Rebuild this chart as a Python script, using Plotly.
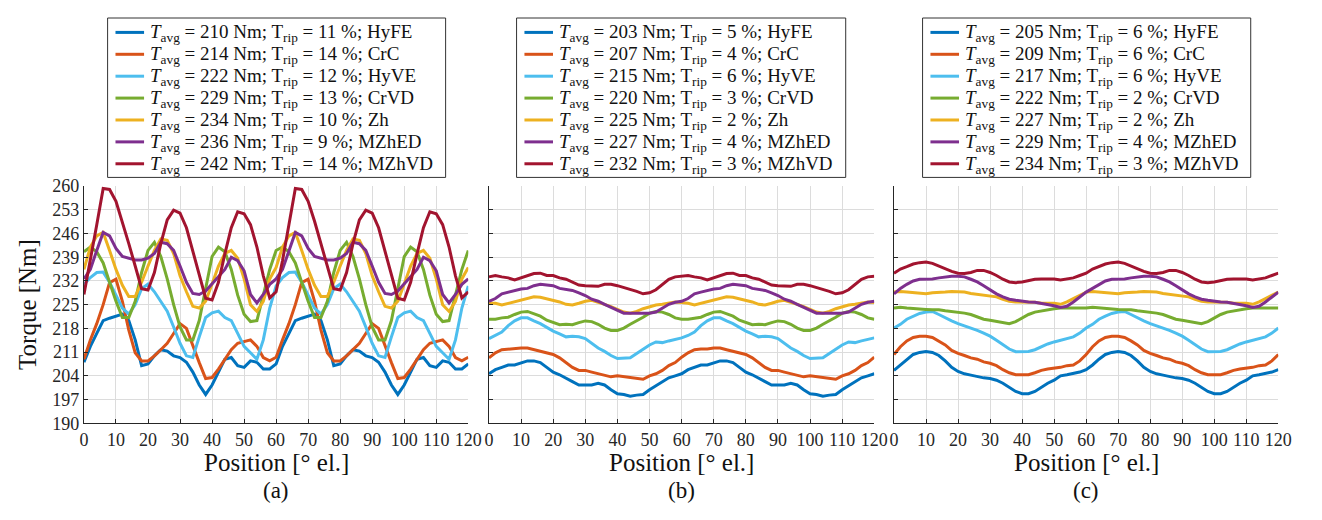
import plotly.graph_objects as go

# ---------------- data ----------------
position = list(range(0, 121, 2))

names = ["HyFE", "CrC", "HyVE", "CrVD", "Zh", "MZhED", "MZhVD"]
colors = ["#0072BD", "#D95319", "#4DBEEE", "#77AC30", "#EDB120", "#7E2F8E", "#A2142F"]

tavg_a = [210, 214, 222, 229, 234, 236, 242]
trip_a = [11, 14, 12, 13, 10, 9, 14]
tavg_b = [203, 207, 215, 220, 225, 227, 232]
trip_b = [5, 4, 6, 3, 2, 4, 3]
tavg_c = [205, 209, 217, 222, 227, 229, 234]
trip_c = [6, 6, 6, 2, 2, 4, 3]

# panel (a)
HyFE_a = [208.0, 212.7, 216.5, 220.3, 221.0, 221.7, 222.2, 220.3, 214.6, 207.0, 207.5, 209.9, 211.7, 211.3, 209.9, 209.4,
          208.0, 205.1, 201.3, 198.5, 201.3, 205.1, 208.9, 209.4, 207.0, 206.5, 208.4, 208.0, 206.0, 206.0, 207.5,
          212.7, 216.5, 220.3, 221.0, 221.7, 222.2, 220.3, 214.6, 207.0, 207.5, 209.9, 211.7, 211.3, 209.9, 209.4,
          208.0, 205.1, 201.3, 198.5, 201.3, 205.1, 208.9, 209.4, 207.0, 206.5, 208.4, 208.0, 206.0, 206.0, 207.5]
CrC_a = [208.9, 214.6, 219.4, 225.0, 231.5, 232.5, 226.0, 217.5, 210.8, 208.4, 208.4, 209.9, 211.7, 213.6, 216.5, 219.4,
         218.0, 212.7, 207.9, 203.2, 203.5, 206.0, 208.9, 211.7, 213.6, 214.1, 214.6, 212.7, 209.4, 208.4, 209.5,
         214.6, 219.4, 225.0, 231.5, 232.5, 226.0, 217.5, 210.8, 208.4, 208.4, 209.9, 211.7, 213.6, 216.5, 219.4,
         218.0, 212.7, 207.9, 203.2, 203.5, 206.0, 208.9, 211.7, 213.6, 214.1, 214.6, 212.7, 209.4, 208.4, 209.5]
HyVE_a = [231.0, 233.0, 234.5, 234.6, 231.6, 227.8, 224.0, 222.2, 225.0, 229.7, 231.1, 228.8, 226.0, 223.1, 218.4, 213.6,
          209.9, 209.4, 215.5, 221.2, 222.6, 223.1, 221.2, 220.3, 216.5, 212.7, 210.8, 208.9, 214.6, 224.0, 230.5,
          233.0, 234.5, 234.6, 231.6, 227.8, 224.0, 222.2, 225.0, 229.7, 231.1, 228.8, 226.0, 223.1, 218.4, 213.6,
          209.9, 209.4, 215.5, 221.2, 222.6, 223.1, 221.2, 220.3, 216.5, 212.7, 210.8, 208.9, 214.6, 224.0, 230.5]
CrVD_a = [240.6, 242.0, 240.6, 237.3, 231.6, 226.0, 221.2, 221.2, 226.0, 234.5, 241.0, 243.4, 239.2, 232.6, 225.0, 218.4,
          214.6, 214.6, 220.3, 229.7, 239.2, 242.0, 240.6, 235.4, 227.8, 222.2, 220.0, 220.3, 227.8, 235.4, 241.0,
          242.0, 240.6, 237.3, 231.6, 226.0, 221.2, 221.2, 226.0, 234.5, 241.0, 243.4, 239.2, 232.6, 225.0, 218.4,
          214.6, 214.6, 220.3, 229.7, 239.2, 242.0, 240.6, 235.4, 227.8, 222.2, 220.0, 220.3, 227.8, 235.4, 241.0]
Zh_a = [235.4, 242.0, 245.3, 246.3, 241.0, 235.4, 230.7, 227.4, 227.4, 231.6, 236.4, 241.0, 244.4, 244.0, 240.1, 233.5,
        228.8, 224.5, 224.0, 226.0, 231.1, 236.4, 240.1, 241.0, 238.7, 232.6, 225.0, 223.0, 226.0, 232.6, 236.0,
        242.0, 245.3, 246.3, 241.0, 235.4, 230.7, 227.4, 227.4, 231.6, 236.4, 241.0, 244.4, 244.0, 240.1, 233.5,
        228.8, 224.5, 224.0, 226.0, 231.1, 236.4, 240.1, 241.0, 238.7, 232.6, 225.0, 223.0, 226.0, 232.6, 236.0]
MZhED_a = [232.6, 235.4, 241.0, 246.3, 245.3, 241.6, 239.2, 238.7, 238.2, 238.2, 238.7, 240.1, 243.4, 243.0, 241.0, 236.4,
           231.6, 228.3, 228.0, 229.0, 231.1, 233.0, 235.4, 239.0, 238.0, 235.0, 228.0, 225.5, 228.0, 231.0, 232.6,
           235.4, 241.0, 246.3, 245.3, 241.6, 239.2, 238.7, 238.2, 238.2, 238.7, 240.1, 243.4, 243.0, 241.0, 236.4,
           231.6, 228.3, 228.0, 229.0, 231.1, 233.0, 235.4, 239.0, 238.0, 235.0, 228.0, 225.5, 228.0, 231.0, 232.6]
MZhVD_a = [228.0, 238.0, 248.6, 259.3, 259.0, 255.5, 249.6, 243.0, 236.4, 229.7, 229.3, 234.5, 243.0, 250.0, 252.9, 252.0,
           247.7, 241.0, 233.5, 226.9, 226.4, 231.6, 240.0, 247.7, 252.4, 251.8, 248.6, 242.0, 233.5, 227.0, 228.8,
           238.0, 248.6, 259.3, 259.0, 255.5, 249.6, 243.0, 236.4, 229.7, 229.3, 234.5, 243.0, 250.0, 252.9, 252.0,
           247.7, 241.0, 233.5, 226.9, 226.4, 231.6, 240.0, 247.7, 252.4, 251.8, 248.6, 242.0, 233.5, 227.0, 228.8]

# panel (b)
HyFE_b = [204.6, 205.8, 206.5, 207.2, 207.2, 207.9, 208.4, 208.4, 207.9, 206.5, 205.1, 204.3, 203.4, 202.3, 201.3, 201.3,
          201.3, 201.8, 201.3, 199.9, 198.7, 198.5, 198.0, 198.3, 198.5, 199.9, 201.1, 202.3, 203.4, 204.0, 204.6,
          205.8, 206.5, 207.2, 207.2, 207.9, 208.4, 208.4, 207.9, 206.5, 205.1, 204.3, 203.4, 202.3, 201.3, 201.3,
          201.3, 201.8, 201.3, 199.9, 198.7, 198.5, 198.0, 198.3, 198.5, 199.9, 201.1, 202.3, 203.4, 204.0, 204.6]
CrC_b = [209.3, 210.8, 211.7, 211.9, 211.9, 212.2, 212.2, 211.7, 211.2, 210.6, 210.3, 209.3, 207.9, 206.5, 205.6, 205.6,
         205.1, 204.6, 204.2, 203.7, 204.0, 203.7, 203.4, 203.2, 203.0, 204.0, 204.6, 205.6, 207.0, 207.9, 209.5,
         210.8, 211.7, 211.9, 211.9, 212.2, 212.2, 211.7, 211.2, 210.6, 210.3, 209.3, 207.9, 206.5, 205.6, 205.6,
         205.1, 204.6, 204.2, 203.7, 204.0, 203.7, 203.4, 203.2, 203.0, 204.0, 204.6, 205.6, 207.0, 207.9, 209.5]
HyVE_b = [215.0, 215.9, 216.9, 218.8, 220.2, 221.1, 221.1, 220.2, 219.4, 218.3, 217.2, 216.4, 215.5, 215.7, 215.5, 215.0,
          213.6, 212.2, 211.2, 210.0, 209.1, 209.1, 209.3, 210.6, 211.9, 213.1, 214.0, 213.8, 214.3, 214.7, 215.2,
          215.9, 216.9, 218.8, 220.2, 221.1, 221.1, 220.2, 219.4, 218.3, 217.2, 216.4, 215.5, 215.7, 215.5, 215.0,
          213.6, 212.2, 211.2, 210.0, 209.1, 209.1, 209.3, 210.6, 211.9, 213.1, 214.0, 213.8, 214.3, 214.7, 215.2]
CrVD_b = [220.7, 220.7, 221.1, 221.3, 222.1, 222.8, 223.0, 222.3, 221.6, 220.4, 219.7, 219.1, 219.2, 219.1, 219.7, 220.2,
          220.0, 219.2, 218.1, 217.4, 217.4, 218.1, 219.2, 220.2, 221.3, 222.5, 223.0, 222.8, 222.1, 221.1, 220.7,
          220.7, 221.1, 221.3, 222.1, 222.8, 223.0, 222.3, 221.6, 220.4, 219.7, 219.1, 219.2, 219.1, 219.7, 220.2,
          220.0, 219.2, 218.1, 217.4, 217.4, 218.1, 219.2, 220.2, 221.3, 222.5, 223.0, 222.8, 222.1, 221.1, 220.7]
Zh_b = [225.4, 225.4, 224.9, 225.4, 225.8, 226.3, 227.0, 227.3, 227.2, 226.8, 226.3, 225.8, 225.1, 224.9, 225.4, 226.0,
        226.3, 225.8, 225.1, 224.4, 223.5, 222.8, 222.5, 223.0, 223.8, 224.4, 224.9, 225.1, 225.4, 225.8, 225.6,
        225.4, 224.9, 225.4, 225.8, 226.3, 227.0, 227.3, 227.2, 226.8, 226.3, 225.8, 225.1, 224.9, 225.4, 226.0,
        226.3, 225.8, 225.1, 224.4, 223.5, 222.8, 222.5, 223.0, 223.8, 224.4, 224.9, 225.1, 225.4, 225.8, 225.6]
MZhED_b = [226.0, 226.8, 228.2, 228.7, 229.2, 229.6, 229.8, 230.6, 231.0, 230.8, 230.6, 229.8, 229.4, 229.2, 228.5, 227.7,
           226.6, 226.0, 225.1, 224.2, 223.2, 222.5, 222.5, 222.5, 222.5, 222.5, 222.8, 224.0, 225.1, 225.7, 226.0,
           226.8, 228.2, 228.7, 229.2, 229.6, 229.8, 230.6, 231.0, 230.8, 230.6, 229.8, 229.4, 229.2, 228.5, 227.7,
           226.6, 226.0, 225.1, 224.2, 223.2, 222.5, 222.5, 222.5, 222.5, 222.5, 222.8, 224.0, 225.1, 225.7, 226.0]
MZhVD_b = [233.2, 233.6, 233.2, 232.9, 232.3, 232.9, 233.4, 234.2, 234.3, 233.6, 233.6, 232.9, 232.5, 231.7, 230.8, 230.6,
           230.6, 230.4, 231.0, 231.0, 230.6, 230.1, 229.6, 228.9, 228.2, 228.5, 229.4, 231.0, 232.5, 233.2, 233.4,
           233.6, 233.2, 232.9, 232.3, 232.9, 233.4, 234.2, 234.3, 233.6, 233.6, 232.9, 232.5, 231.7, 230.8, 230.6,
           230.6, 230.4, 231.0, 231.0, 230.6, 230.1, 229.6, 228.9, 228.2, 228.5, 229.4, 231.0, 232.5, 233.2, 233.4]

# panel (c)
HyFE_c = [205.6, 207.2, 208.9, 210.3, 210.9, 211.2, 210.9, 210.0, 208.4, 206.5, 205.3, 204.6, 204.2, 203.7, 203.4, 203.2,
          202.7, 201.8, 200.6, 199.4, 198.7, 198.7, 199.4, 200.6, 201.8, 202.7, 204.0, 204.3, 204.6, 205.1, 205.8,
          207.2, 208.9, 210.3, 210.9, 211.2, 210.9, 210.0, 208.4, 206.5, 205.3, 204.6, 204.2, 203.7, 203.4, 203.2,
          202.7, 201.8, 200.6, 199.4, 198.7, 198.7, 199.4, 200.6, 201.8, 202.7, 204.0, 204.3, 204.6, 205.1, 205.8]
CrC_c = [210.3, 212.6, 214.3, 215.3, 215.7, 215.7, 215.3, 214.3, 213.1, 211.5, 210.6, 210.0, 209.3, 208.9, 208.1, 207.7,
         207.0, 205.8, 204.9, 204.3, 204.2, 204.3, 204.9, 205.6, 206.0, 206.2, 206.5, 207.0, 207.2, 208.4, 210.3,
         212.6, 214.3, 215.3, 215.7, 215.7, 215.3, 214.3, 213.1, 211.5, 210.6, 210.0, 209.3, 208.9, 208.1, 207.7,
         207.0, 205.8, 204.9, 204.3, 204.2, 204.3, 204.9, 205.6, 206.0, 206.2, 206.5, 207.0, 207.2, 208.4, 210.3]
HyVE_c = [218.1, 219.2, 220.7, 221.6, 222.4, 222.8, 223.0, 222.1, 221.1, 220.2, 219.4, 218.8, 218.1, 217.4, 216.6, 215.7,
          214.5, 213.1, 211.9, 211.1, 211.1, 211.2, 211.7, 212.6, 213.4, 214.0, 214.5, 215.0, 215.5, 216.6, 218.1,
          219.2, 220.7, 221.6, 222.4, 222.8, 223.0, 222.1, 221.1, 220.2, 219.4, 218.8, 218.1, 217.4, 216.6, 215.7,
          214.5, 213.1, 211.9, 211.1, 211.1, 211.2, 211.7, 212.6, 213.4, 214.0, 214.5, 215.0, 215.5, 216.6, 218.1]
CrVD_c = [224.0, 224.2, 224.0, 223.8, 223.6, 223.6, 223.5, 223.5, 223.2, 223.0, 222.8, 222.5, 222.1, 221.3, 220.7, 220.4,
          220.0, 219.6, 219.4, 220.0, 221.1, 222.1, 222.8, 223.2, 223.5, 223.8, 224.0, 224.0, 223.8, 223.8, 224.0,
          224.2, 224.0, 223.8, 223.6, 223.6, 223.5, 223.5, 223.2, 223.0, 222.8, 222.5, 222.1, 221.3, 220.7, 220.4,
          220.0, 219.6, 219.4, 220.0, 221.1, 222.1, 222.8, 223.2, 223.5, 223.8, 224.0, 224.0, 223.8, 223.8, 224.0]
Zh_c = [228.7, 228.9, 228.7, 228.5, 228.5, 228.2, 228.5, 228.5, 228.7, 228.9, 228.9, 228.7, 228.3, 228.1, 227.9, 227.7,
        227.3, 226.6, 226.0, 225.8, 225.8, 225.8, 225.7, 225.4, 225.4, 225.4, 225.1, 225.8, 226.8, 227.7, 228.7,
        228.9, 228.7, 228.5, 228.5, 228.2, 228.5, 228.5, 228.7, 228.9, 228.9, 228.7, 228.3, 228.1, 227.9, 227.7,
        227.3, 226.6, 226.0, 225.8, 225.8, 225.8, 225.7, 225.4, 225.4, 225.4, 225.1, 225.8, 226.8, 227.7, 228.7]
MZhED_c = [228.2, 229.8, 231.0, 232.0, 232.5, 232.5, 232.6, 232.9, 233.2, 233.4, 233.4, 233.2, 232.5, 231.7, 230.6, 229.4,
           228.2, 227.3, 226.6, 226.3, 226.0, 225.8, 225.7, 225.4, 225.1, 224.7, 224.2, 224.5, 225.8, 227.3, 228.7,
           229.8, 231.0, 232.0, 232.5, 232.5, 232.6, 232.9, 233.2, 233.4, 233.4, 233.2, 232.5, 231.7, 230.6, 229.4,
           228.2, 227.3, 226.6, 226.3, 226.0, 225.8, 225.7, 225.4, 225.1, 224.7, 224.2, 224.5, 225.8, 227.3, 228.7]
MZhVD_c = [234.3, 235.5, 236.2, 237.0, 237.4, 237.6, 237.2, 236.4, 235.8, 234.8, 234.3, 234.2, 234.5, 235.1, 235.1, 234.5,
           233.6, 232.5, 231.7, 231.5, 231.7, 232.2, 232.5, 232.6, 232.6, 232.6, 232.3, 232.6, 232.9, 233.6, 234.3,
           235.5, 236.2, 237.0, 237.4, 237.6, 237.2, 236.4, 235.8, 234.8, 234.3, 234.2, 234.5, 235.1, 235.1, 234.5,
           233.6, 232.5, 231.7, 231.5, 231.7, 232.2, 232.5, 232.6, 232.6, 232.6, 232.3, 232.6, 232.9, 233.6, 234.3]

x_ticks = list(range(0, 121, 10))
y_ticks = list(range(190, 261, 7))
panel_labels = ["(a)", "(b)", "(c)"]
x_title = "Position [° el.]"
y_title = "Torque [Nm]"

panels = [
    ([HyFE_a, CrC_a, HyVE_a, CrVD_a, Zh_a, MZhED_a, MZhVD_a], tavg_a, trip_a),
    ([HyFE_b, CrC_b, HyVE_b, CrVD_b, Zh_b, MZhED_b, MZhVD_b], tavg_b, trip_b),
    ([HyFE_c, CrC_c, HyVE_c, CrVD_c, Zh_c, MZhED_c, MZhVD_c], tavg_c, trip_c),
]

# ---------------- figure ----------------
# the page body keeps an 8 px margin, so the figure is 16 px smaller than the
# window and all layout positions below are given in window pixels
OFF = 8
W, H = 1322 - 2 * OFF, 520 - 2 * OFF
FONT = "Liberation Serif"
INK = "#262626"
TXT = "#111111"

x_px = [(80, 470), (491, 882), (902, 1292)]
plot_top, plot_bot = 183, 430
leg_px = [(104, 447), (519, 853), (931, 1264)]
leg_top, leg_bot = 8, 174
row0, row_step = 23.0, 22.8


def px(xp):
    return (xp - OFF) / W


def py(yp):
    return 1 - (yp - OFF) / H


y_dom = [py(plot_bot), py(plot_top)]

fig = go.Figure()
for p, (series, tavg, trip) in enumerate(panels):
    sfx = "" if p == 0 else str(p + 1)
    for k in range(7):
        fig.add_trace(go.Scatter(
            x=position, y=series[k], mode="lines",
            line=dict(color=colors[k], width=3),
            name=f"{names[k]} {panel_labels[p]}", xaxis="x" + sfx, yaxis="y" + sfx,
            showlegend=False,
        ))

axis_common = dict(
    showgrid=True, gridcolor="#dcdcdc", gridwidth=1,
    showline=True, linecolor=INK, linewidth=1,
    ticks="inside", ticklen=4, tickcolor=INK, tickwidth=1,
    tickfont=dict(family=FONT, size=18, color=INK),
    zeroline=False, mirror=False,
)

layout = dict(
    width=W, height=H,
    margin=dict(l=0, r=0, t=0, b=0),
    paper_bgcolor="white", plot_bgcolor="white",
    font=dict(family=FONT, color=INK),
    showlegend=False,
)
annotations = []
shapes = []
for p, (series, tavg, trip) in enumerate(panels):
    sfx = "" if p == 0 else str(p + 1)
    x0, x1 = x_px[p]
    layout["xaxis" + sfx] = dict(axis_common, domain=[px(x0), px(x1)], range=[0, 120],
                                 tickvals=x_ticks, anchor="y" + sfx)
    layout["yaxis" + sfx] = dict(axis_common, domain=y_dom, range=[190, 260],
                                 tickvals=y_ticks, anchor="x" + sfx,
                                 showticklabels=(p == 0))
    cx = px((x0 + x1) / 2)
    lx0, lx1 = leg_px[p]
    shapes.append(dict(type="rect", xref="paper", yref="paper",
                       x0=px(lx0), x1=px(lx1), y0=py(leg_bot), y1=py(leg_top),
                       line=dict(color="#333333", width=1), fillcolor="white", layer="above"))
    for k in range(7):
        yc = row0 + row_step * k
        shapes.append(dict(type="line", xref="paper", yref="paper",
                           x0=px(lx0 + 8), x1=px(lx0 + 37), y0=py(yc), y1=py(yc),
                           line=dict(color=colors[k], width=3), layer="above"))
        label = (f"<i>T</i><sub>avg</sub> = {tavg[k]} Nm; T<sub>rip</sub> = {trip[k]} %; {names[k]}")
        annotations.append(dict(text=label, x=px(lx0 + 41), y=py(yc + 1), xref="paper", yref="paper",
                                showarrow=False, xanchor="left", yanchor="middle",
                                font=dict(family=FONT, size=19, color=TXT)))
    annotations.append(dict(text=x_title, x=cx, y=py(471), xref="paper", yref="paper",
                            showarrow=False, font=dict(family=FONT, size=25, color=TXT),
                            xanchor="center", yanchor="middle"))
    annotations.append(dict(text=panel_labels[p], x=cx, y=py(500), xref="paper", yref="paper",
                            showarrow=False, font=dict(family=FONT, size=23, color=TXT),
                            xanchor="center", yanchor="middle"))
annotations.append(dict(text=y_title, x=px(22), y=py(306), xref="paper", yref="paper",
                        textangle=-90, showarrow=False,
                        font=dict(family=FONT, size=25, color=TXT),
                        xanchor="center", yanchor="middle"))
layout["annotations"] = annotations
layout["shapes"] = shapes
fig.update_layout(**layout)

fig.write_html("out.html")
